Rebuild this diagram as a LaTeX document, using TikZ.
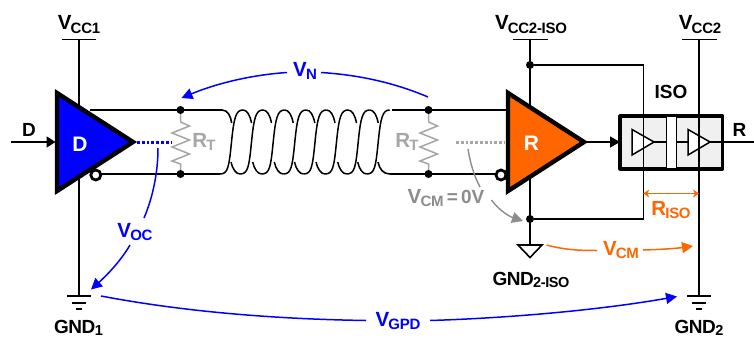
\documentclass[tikz,border=0pt]{standalone}
\usepackage{fontspec}
\setmainfont{Liberation Sans}
\usetikzlibrary{arrows.meta}
\definecolor{myblue}{RGB}{0,0,255}
\definecolor{myorange}{RGB}{255,102,0}
\definecolor{mygrey}{RGB}{166,166,166}
\definecolor{dkgrey}{RGB}{140,140,140}
\definecolor{isofill}{RGB}{240,240,240}
\newcommand{\lab}[2]{\fontsize{20.5}{20}\selectfont\bfseries #1\kern-0.8pt\raisebox{-3.4pt}{\fontsize{15}{15}\selectfont\addfontfeature{LetterSpace=-2}#2}}
\newcommand{\glab}[2]{\fontsize{19}{19}\selectfont\bfseries\addfontfeature{LetterSpace=-3}#1\kern-0.5pt\raisebox{-2.2pt}{\fontsize{14.5}{14.5}\selectfont\addfontfeature{LetterSpace=-3}#2}}
\tikzset{
  wire/.style={black,line width=1.6pt},
  driver/.style={line width=4.4pt,black,miter limit=10},
  dotpt/.style={circle,fill=black,inner sep=0pt,minimum size=8pt},
  bubble/.style={circle,draw=black,fill=white,line width=2.8pt,inner sep=0pt,minimum size=10pt},
  txt/.style={inner sep=0pt,font=\bfseries},
  bluearr/.style={myblue,line width=1.5pt,-{Triangle[length=11pt,width=11pt]}},
  blueln/.style={myblue,line width=1.5pt},
  orarr/.style={myorange,line width=1.5pt,-{Triangle[length=11pt,width=11pt]}},
  orln/.style={myorange,line width=1.5pt},
  grarr/.style={dkgrey,line width=1.4pt,-{Triangle[length=11pt,width=11pt]}},
  grln/.style={dkgrey,line width=1.4pt},
  resist/.style={mygrey,line width=1.5pt,line join=miter},
  buffer/.style={draw=black,fill=white,line width=1.5pt},
  twist/.style={black,line width=1.5pt}
}
\begin{document}
\begin{tikzpicture}[x=1pt,y=-1pt]
\useasboundingbox (0,0) rectangle (754,337);
% coordinates
\coordinate (vcc1t) at (79,39.5);
\coordinate (gnd1t) at (79,296);
\coordinate (vcc2t) at (699,39.5);
\coordinate (gnd2t) at (699,296);
\coordinate (vcci) at (530,39.5);
\coordinate (gndi) at (530,245);
\coordinate (dl) at (11,142);
\coordinate (din) at (55.5,142);
\coordinate (rout) at (754,142);
% supply rails
\draw[wire] (62,39.5) -- (96,39.5);
\draw[wire] (vcc1t) -- (gnd1t);
\draw[wire] (67,296) -- (91,296);
\draw[wire] (72,302.7) -- (86,302.7);
\draw[wire] (76,309) -- (82,309);
\draw[wire] (512.5,39.5) -- (547.5,39.5);
\draw[wire] (vcci) -- (gndi);
\draw[wire] (682,39.5) -- (717,39.5);
\draw[wire] (vcc2t) -- (gnd2t);
\draw[wire] (687,296) -- (711,296);
\draw[wire] (692,302.7) -- (706,302.7);
\draw[wire] (696,309) -- (702,309);
\draw[wire,fill=white] (518,245) -- (542,245) -- (530,257.5) -- cycle;
% bus wires
\draw[wire] (90,110) -- (222,110) .. controls (228,110) and (230.5,116) .. (231.7,123);
\draw[wire] (96,174) -- (220,174);
\draw[wire] (391.6,110) -- (510,110);
\draw[wire] (378,162) .. controls (379.5,169) and (383,174) .. (390,174) -- (498,174);
% twisted pair
\foreach \b in {220,240,261.7,283.3,303.5,325,346.7,366.7}{
  \draw[twist] (\b,174) .. controls ({\b+8},174) and ({\b+9},167) .. ({\b+11.5},142)
     .. controls ({\b+14},117) and ({\b+16},110) .. ({\b+23},110);
}
\foreach \b in {220,240,261.7,283.3,303.5,325,346.7}{
  \draw[twist] ({\b+23},110) .. controls ({\b+27},110) and ({\b+30},115) .. ({\b+31.5},123);
}
\foreach \b in {240,261.7,283.3,303.5,325,346.7,366.7}{
  \draw[twist] ({\b-9},162) .. controls ({\b-7.5},169) and ({\b-4},174) .. (\b,174);
}
% terminations
\node[dotpt] (n1) at (180.5,110) {};
\node[dotpt] (n2) at (180.5,174) {};
\node[dotpt] (n3) at (428.5,110) {};
\node[dotpt] (n4) at (428.5,174) {};
\draw[resist] (n1) -- (180.5,122) -- (189.5,126) -- (172,133) -- (189.5,140) -- (172,147) -- (189.5,154) -- (172,161) -- (180.5,164) -- (n2);
\draw[resist] (n3) -- (428.5,122) -- (437.5,126) -- (420,133) -- (437.5,140) -- (420,147) -- (437.5,154) -- (420,161) -- (428.5,164) -- (n4);
% dots
\draw[myblue,line width=3pt,dash pattern=on 2.8pt off 2pt] (137,142) -- (171,142);
\draw[mygrey,line width=3pt,dash pattern=on 2.8pt off 2pt] (456,142) -- (505,142);
% driver
\draw[wire,-{Triangle[length=9pt,width=11pt]}] (dl) -- (din);
\node[bubble] (bub1) at (95.8,175) {};
\filldraw[driver,fill=myblue] (57,93) -- (57,191) -- (133,142) -- cycle;
\node[txt,white,font=\fontsize{21}{21}\selectfont\bfseries] (dlab) at (80,144) {D};
\node[txt,font=\fontsize{19}{19}\selectfont\bfseries] (dinlab) at (29,130) {D};
% receiver
\node[bubble] (bub2) at (501,175) {};
\filldraw[driver,fill=myorange] (508,93) -- (508,191) -- (584,142) -- cycle;
\node[txt,white,font=\fontsize{21}{21}\selectfont\bfseries] (rlab) at (531.5,143) {R};
% dots at receiver rail and iso supply
\node[dotpt] (s1) at (530,65) {};
\node[dotpt] (s2) at (530,219) {};
% ISO
\draw[wire,-{Triangle[length=10pt,width=11pt]}] (586,142) -- (620,142);
\draw[black,line width=3.2pt,fill=isofill,line join=round] (620,116) rectangle (722.5,169);
\draw[black,line width=1.5pt,fill=white] (666.7,116) rectangle (676.5,169);
\draw[buffer] (632,129.5) -- (632,155) -- (654,142) -- cycle;
\draw[buffer] (688,129.5) -- (688,155) -- (710,142) -- cycle;
\draw[wire] (654,142) -- (666.7,142);
\draw[wire] (676.5,142) -- (688,142);
\draw[wire] (710,142) -- (722.5,142);
\draw[wire] (722.5,142) -- (rout);
\draw[wire] (s1) -- (643.3,65) -- (643.3,219) -- (s2);
\draw[wire] (699,110) -- (699,175);
\node[txt,font=\fontsize{19}{19}\selectfont\bfseries] (iso) at (671,92) {ISO};
\node[txt,font=\fontsize{19}{19}\selectfont\bfseries] (rlabel) at (739.5,130) {R};
% riso
\draw[myorange,line width=1.4pt,{Stealth[length=6pt,width=8pt]}-{Stealth[length=6pt,width=8pt]}] (643.3,193.5) -- (699,193.5);
% labels
\node[txt] (lv1) at (79,24.5) {\lab{V}{CC1}};
\node[txt] (lv2) at (531,24.5) {\lab{V}{CC2-ISO}};
\node[txt] (lv3) at (700,24.5) {\lab{V}{CC2}};
\node[txt] (lg1) at (78.5,327.5) {\glab{GND}{1}};
\node[txt] (lg2) at (531,280) {\glab{GND}{2-ISO}};
\node[txt] (lg3) at (699,327.5) {\glab{GND}{2}};
\node[txt,mygrey] (rt1) at (204,142) {\lab{R}{T}};
\node[txt,mygrey] (rt2) at (407,142) {\lab{R}{T}};
\node[txt,dkgrey] (vcm0) at (446,198) {\lab{V}{CM}\fontsize{19}{19}\selectfont\,=\,0V};
\node[txt,myblue] (vn) at (305,71) {\lab{V}{N}};
\node[txt,myblue] (voc) at (135,232) {\lab{V}{OC}};
\node[txt,myblue] (vgpd) at (398,321) {\lab{V}{GPD}};
\node[txt,myorange] (vcm) at (621,250) {\lab{V}{CM}};
\node[txt,myorange] (riso) at (671,210) {\lab{R}{ISO}};
% annotation curves
\coordinate (vnr) at (428,97);
\coordinate (vnl) at (181.5,98);
\draw[blueln] (vnr) .. controls (395,83) and (360,75) .. (321,72.5);
\draw[bluearr] (287,72.5) .. controls (250,75) and (215,84) .. (vnl);
\coordinate (voct) at (158,148);
\coordinate (ocb) at (91,289.5);
\draw[blueln] (voct) .. controls (158,172) and (153,197) .. (144,218);
\draw[bluearr] (130,245) .. controls (120,262) and (106,276) .. (ocb);
\coordinate (gpl) at (101,296);
\coordinate (gpr) at (677,296.5);
\draw[blueln] (gpl) .. controls (180,311) and (270,319) .. (366,320.5);
\draw[bluearr] (430,320.5) .. controls (510,318) and (600,310) .. (gpr);
\coordinate (cml) at (546.5,245);
\coordinate (cmr) at (693,246);
\draw[orln] (cml) .. controls (565,250) and (580,250.5) .. (597,250.5);
\draw[orarr] (643,250) .. controls (660,249.5) and (676,248.5) .. (cmr);
\draw[grln] (468,149) .. controls (470,162) and (474,176) .. (480,187);
\draw[grarr] (491.5,200) .. controls (498,209) and (508,216) .. (523,221);
\end{tikzpicture}
\end{document}
